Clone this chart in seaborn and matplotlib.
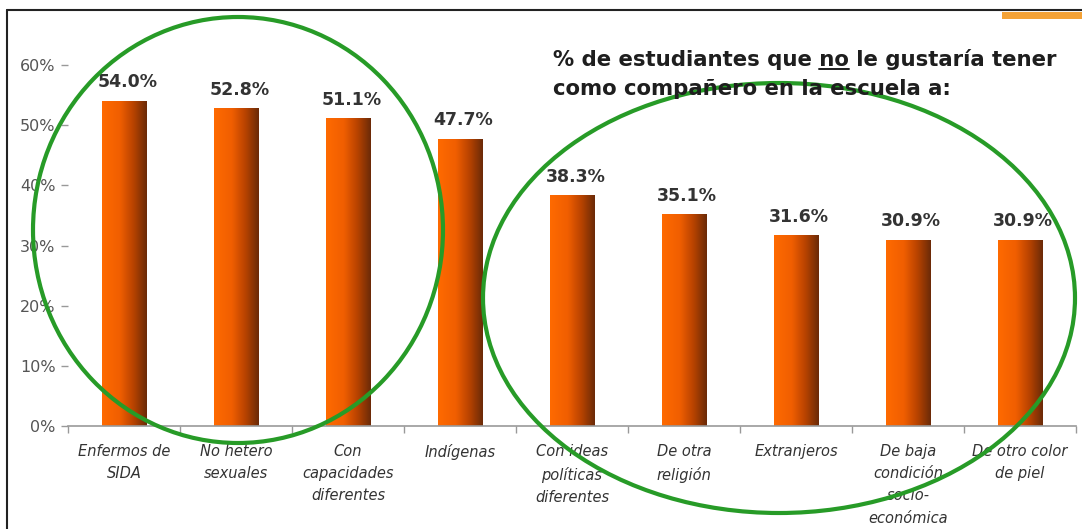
import numpy as np
import pandas as pd
import matplotlib
matplotlib.use("Agg")
import matplotlib.pyplot as plt
from matplotlib.colors import LinearSegmentedColormap
from matplotlib.patches import Ellipse, Rectangle
from matplotlib.lines import Line2D
import seaborn as sns

# --- data -------------------------------------------------------------
categories = [
    "Enfermos de\nSIDA",
    "No hetero\nsexuales",
    "Con\ncapacidades\ndiferentes",
    "Indígenas",
    "Con ideas\npolíticas\ndiferentes",
    "De otra\nreligión",
    "Extranjeros",
    "De baja\ncondición\nsocio-\neconómica",
    "De otro color\nde piel",
]
values = [54.0, 52.8, 51.1, 47.7, 38.3, 35.1, 31.6, 30.9, 30.9]
y_ticks = [0, 10, 20, 30, 40, 50, 60]
title_pre = "% de estudiantes que "
title_mark = "no"
title_post = " le gustaría tener"
title_line2 = "como compañero en la escuela a:"

# --- style ------------------------------------------------------------
sns.set_theme(style="white")
plt.rcParams["font.family"] = ["DejaVu Sans"]

W, H = 1082, 529
fig = plt.figure(figsize=(W / 100, H / 100), dpi=100)
fig.patch.set_facecolor("white")

ax = fig.add_axes([68 / W, 1 - 426 / H, (1076 - 68) / W, (426 - 65) / H])
df = pd.DataFrame({"grupo": categories, "pct": values})
sns.barplot(data=df, x="grupo", y="pct", color="#FF6600", width=0.4,
            saturation=1, ax=ax)

# horizontal orange -> brown shading on each bar
shade = LinearSegmentedColormap.from_list(
    "shade", [(0.0, "#FF6A00"), (0.4, "#F05E00"), (0.7, "#B84300"), (1.0, "#6A2A08")])
grad = np.linspace(0, 1, 256).reshape(1, -1)
for p in ax.patches:
    x0, w, h = p.get_x(), p.get_width(), p.get_height()
    p.set_visible(False)
    ax.imshow(grad, extent=[x0, x0 + w, 0, h], aspect="auto", cmap=shade,
              origin="lower", zorder=2, interpolation="bicubic")

for i, v in enumerate(values):
    ax.text(i + 0.03, v + 1.6, f"{v:.1f}%", ha="center", va="bottom",
            fontsize=12.5, fontweight="bold", color="#333333")

ax.set_xlim(-0.5, len(values) - 0.5)
ax.set_ylim(0, 60)
ax.set_yticks(y_ticks)
ax.set_yticklabels([f"{t}%" for t in y_ticks])
ax.set_xlabel("")
ax.set_ylabel("")
ax.set_xticks(range(len(categories)))
ax.set_xticklabels(categories, fontstyle="italic", fontsize=10.5,
                   color="#333333", linespacing=1.6)
ax.set_xticks(np.arange(-0.5, len(values)), minor=True)
ax.tick_params(axis="x", which="major", length=0, pad=13)
ax.tick_params(axis="x", which="minor", length=5, width=1, color="#999999",
               direction="out", bottom=True)
ax.tick_params(axis="y", length=5, width=1, color="#999999", labelsize=11.5,
               labelcolor="#555555", pad=4, left=True)
for s in ["top", "right", "left"]:
    ax.spines[s].set_visible(False)
ax.spines["bottom"].set_color("#999999")
ax.spines["bottom"].set_linewidth(1.2)
ax.grid(False)
ax.set_facecolor("none")

# --- overlay in pixel coordinates --------------------------------------
ov = fig.add_axes([0, 0, 1, 1])
ov.set_xlim(0, W)
ov.set_ylim(H, 0)
ov.axis("off")
ov.patch.set_alpha(0)

# frame and corner strip
ov.add_line(Line2D([7, W], [10, 10], color="#222222", lw=1.5))
ov.add_line(Line2D([7, 7], [10, H], color="#222222", lw=1.5))
ov.add_patch(Rectangle((1002, 11.5), 80, 7, color="#F4A236", lw=0))

# title with underlined word
tx, ty1, ty2 = 553, 66, 95
tkw = dict(fontsize=15.3, fontweight="bold", color="#1E1E1E", va="baseline", ha="left")
ov.text(tx, ty1, title_pre + title_mark + title_post, **tkw)
ov.text(tx, ty2, title_line2, **tkw)
fig.canvas.draw()
r = fig.canvas.get_renderer()
inv = ov.transData.inverted()
m1 = ov.text(tx, ty1, title_pre + title_mark, alpha=0, **tkw)
m2 = ov.text(tx, ty1, title_mark, alpha=0, **tkw)
e1 = m1.get_window_extent(r)
e2 = m2.get_window_extent(r)
x_end = inv.transform((e1.x1, 0))[0]
x_start = x_end - (e2.width)
ov.add_line(Line2D([x_start, x_end], [ty1 + 3, ty1 + 3], color="#1E1E1E", lw=1.4))

# green highlight ellipses
green = "#279B27"
ov.add_patch(Ellipse((238, 230), 410, 426, fill=False, ec=green, lw=3))
ov.add_patch(Ellipse((779, 298), 592, 430, fill=False, ec=green, lw=3))

fig.savefig("out.png", dpi=100, facecolor="white")
